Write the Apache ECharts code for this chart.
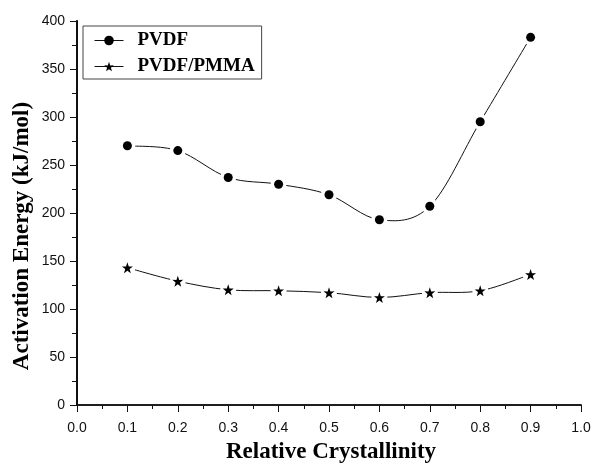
<!DOCTYPE html>
<html>
<head>
<meta charset="utf-8">
<script src="https://cdn.jsdelivr.net/npm/echarts@6/dist/echarts.min.js"></script>
<style>
  html, body { margin: 0; padding: 0; background: #fff; }
  #chart { width: 595px; height: 467px; }
</style>
</head>
<body>
<div id="chart"></div>
<script>
// Relative crystallinity (x) and activation energy in kJ/mol (y)
const crystallinity = [0.1, 0.2, 0.3, 0.4, 0.5, 0.6, 0.7, 0.8, 0.9];
const pvdf = [270, 265, 237, 230, 219, 193, 207, 295, 383];
const pvdfPmma = [143, 129, 120, 119, 117, 112, 117, 119, 136];
const seriesNames = ['PVDF', 'PVDF/PMMA'];
const xTitle = 'Relative Crystallinity';
const yTitle = 'Activation Energy (kJ/mol)';

const pairs = ys => crystallinity.map((x, i) => [x, ys[i]]);

const ink = '#111';
const grid = { left: 77, right: 14, top: 21, bottom: 62 };
const frameLine = { show: true, lineStyle: { color: ink, width: 1.6 } };
const starPath = 'path://M50,0 L61.8,35.1 L97.6,34.5 L69.1,56.2 L79.4,90.5 L50,70 L20.6,90.5 L30.9,56.2 L2.4,34.5 L38.2,35.1 Z';

// Catmull-Rom segment between point i and i+1, positioned by the grid's own coordinate system
function splineSegment(data) {
  return function (params, api) {
    const i = params.dataIndex;
    const n = data.length;
    if (i >= n - 1) return null;
    const p = k => api.coord(data[Math.max(0, Math.min(n - 1, k))]);
    const p0 = p(i - 1), p1 = p(i), p2 = p(i + 1), p3 = p(i + 2);
    const c1 = [p1[0] + (p2[0] - p0[0]) / 6, p1[1] + (p2[1] - p0[1]) / 6];
    const c2 = [p2[0] - (p3[0] - p1[0]) / 6, p2[1] - (p3[1] - p1[1]) / 6];
    return {
      type: 'bezierCurve',
      shape: { x1: p1[0], y1: p1[1], x2: p2[0], y2: p2[1],
               cpx1: c1[0], cpy1: c1[1], cpx2: c2[0], cpy2: c2[1] },
      style: { stroke: ink, lineWidth: 1, fill: null }
    };
  };
}

// smooth curve, a white halo that opens the curve round each point, then the markers
function curve(name, ys, symbol, size) {
  const data = pairs(ys);
  return [
    {
      name: name + ' curve', type: 'custom', data: data,
      renderItem: splineSegment(data), z: 2, silent: true
    },
    {
      name: name + ' halo', type: 'scatter', data: data,
      symbol: 'circle', symbolSize: 16, itemStyle: { color: '#fff', opacity: 1 },
      z: 3, silent: true
    },
    {
      name: name, type: 'line', data: data,
      symbol: symbol, symbolSize: size, showSymbol: true,
      lineStyle: { opacity: 0 }, itemStyle: { color: '#000', opacity: 1 },
      z: 4, silent: true
    }
  ];
}

const chart = echarts.init(document.getElementById('chart'), null, { renderer: 'canvas' });
chart.setOption({
  animation: false,
  backgroundColor: '#fff',
  grid: grid,
  legend: {
    data: seriesNames,
    orient: 'vertical',
    left: 83, top: 26,
    padding: [5, 7, 3, 11],
    itemWidth: 29, itemHeight: 12, itemGap: 7,
    borderColor: '#444', borderWidth: 1, backgroundColor: '#fff',
    lineStyle: { color: ink, width: 1, opacity: 1 },
    textStyle: {
      fontFamily: 'Liberation Serif', fontWeight: 'bold', fontSize: 19,
      color: '#000', padding: [0, 0, 0, 9]
    }
  },
  xAxis: [
    {
      type: 'value', min: 0, max: 1, interval: 0.1, position: 'bottom',
      axisLine: frameLine,
      axisTick: { show: true, inside: false, length: 7, lineStyle: { color: ink, width: 1 } },
      minorTick: { show: true, splitNumber: 2, length: 3, lineStyle: { color: ink, width: 1 } },
      splitLine: { show: false },
      axisLabel: {
        margin: 16, fontFamily: 'Liberation Sans', fontSize: 14, color: ink,
        formatter: v => v.toFixed(1)
      }
    },
    {
      type: 'value', min: 0, max: 1, interval: 0.05, position: 'top',
      axisLine: frameLine,
      axisTick: { show: true, inside: true, length: 4, lineStyle: { color: ink, width: 1 } },
      splitLine: { show: false }, axisLabel: { show: false }
    }
  ],
  yAxis: [
    {
      type: 'value', min: 0, max: 400, interval: 50, position: 'left',
      axisLine: { show: true, lineStyle: { color: ink, width: 2 } },
      axisTick: { show: true, inside: false, length: 7, lineStyle: { color: ink, width: 1 } },
      minorTick: { show: true, splitNumber: 2, length: 3, lineStyle: { color: ink, width: 1 } },
      splitLine: { show: false },
      axisLabel: { margin: 12, fontFamily: 'Liberation Sans', fontSize: 14, color: ink }
    },
    {
      type: 'value', min: 0, max: 400, interval: 25, position: 'right',
      axisLine: frameLine,
      axisTick: { show: true, inside: true, length: 5, lineStyle: { color: ink, width: 1 } },
      splitLine: { show: false }, axisLabel: { show: false }
    }
  ],
  graphic: [
    {
      type: 'text', x: 331, y: 452,
      style: {
        text: xTitle, fontFamily: 'Liberation Serif', fontWeight: 'bold',
        fontSize: 23, fill: '#000', textAlign: 'center', textVerticalAlign: 'middle'
      }
    },
    {
      type: 'text', x: 22, y: 236, rotation: Math.PI / 2,
      style: {
        text: yTitle, fontFamily: 'Liberation Serif', fontWeight: 'bold',
        fontSize: 23, fill: '#000', textAlign: 'center', textVerticalAlign: 'middle'
      }
    }
  ],
  series: [
    ...curve(seriesNames[0], pvdf, 'circle', 9),
    ...curve(seriesNames[1], pvdfPmma, starPath, 11)
  ]
});
</script>
</body>
</html>
